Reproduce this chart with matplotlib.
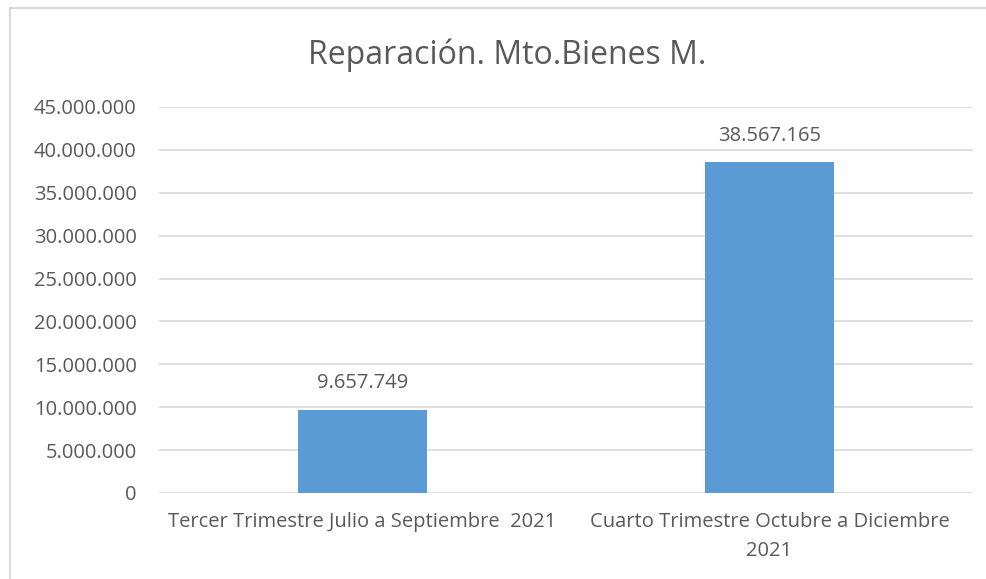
import matplotlib
matplotlib.use("Agg")
import matplotlib.pyplot as plt
from matplotlib.lines import Line2D
from matplotlib.ticker import FuncFormatter

categories = ["Tercer Trimestre Julio a Septiembre  2021",
              "Cuarto Trimestre Octubre a Diciembre\n2021"]
values = [9657749, 38567165]
title = "Reparación. Mto.Bienes M."

plt.rcParams['font.family'] = ['Open Sans', 'DejaVu Sans']
txt = '#595959'
W, H = 987, 579
fig = plt.figure(figsize=(W/100, H/100), dpi=100)
ax = fig.add_axes([159/W, 1-493/H, (973-159)/W, (493-107)/H])

x = list(range(len(values)))
ax.bar(x, values, width=0.315, color='#5b9bd5', zorder=3)
ax.set_xlim(-0.5, len(values)-0.5)
ax.set_ylim(0, 45000000)
ax.set_yticks(range(0, 45000001, 5000000))
ax.yaxis.set_major_formatter(FuncFormatter(lambda v, p: f"{int(v):,}".replace(",", ".")))
ax.grid(axis='y', color='#d9d9d9', linewidth=1.2, zorder=0)
for s in ax.spines.values():
    s.set_visible(False)
ax.tick_params(axis='y', length=0, pad=16, labelsize=14.5, labelcolor=txt)
ax.tick_params(axis='x', length=0, pad=14, labelsize=14.5, labelcolor=txt)
ax.set_xticks(x)
ax.set_xticklabels(categories, linespacing=1.6)

for xi, v in zip(x, values):
    ax.annotate(f"{v:,}".replace(",", "."), (xi, v), xytext=(0, 12),
                textcoords='offset points', ha='center', va='bottom',
                fontsize=14.5, color=txt)

fig.text(507/W, 1-55/H, title, ha='center', va='center', fontsize=23, color=txt)

fig.add_artist(Line2D([10/W, 10/W], [0, 1-8/H], transform=fig.transFigure,
                      color='#d9d9d9', linewidth=1.5))
fig.add_artist(Line2D([10/W, 1], [1-8/H, 1-8/H], transform=fig.transFigure,
                      color='#d9d9d9', linewidth=1.5))

fig.savefig("out.png", dpi=100, facecolor='white')
